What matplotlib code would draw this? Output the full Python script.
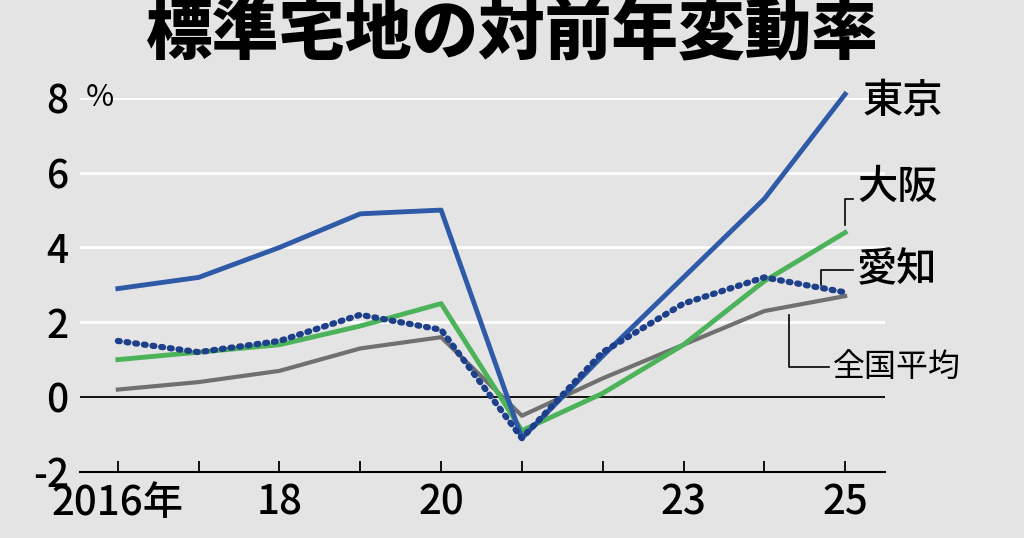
import matplotlib.pyplot as plt

plt.rcParams['font.family'] = ['Noto Sans CJK JP', 'DejaVu Sans']

years = [2016, 2017, 2018, 2019, 2020, 2021, 2022, 2023, 2024, 2025]
tokyo = [2.9, 3.2, 4.0, 4.9, 5.0, -1.1, 1.1, 3.2, 5.3, 8.1]
osaka = [1.0, 1.2, 1.4, 1.9, 2.5, -0.9, 0.1, 1.4, 3.1, 4.4]
aichi = [1.5, 1.2, 1.5, 2.2, 1.8, -1.1, 1.2, 2.5, 3.2, 2.8]
zenkoku = [0.2, 0.4, 0.7, 1.3, 1.6, -0.5, 0.5, 1.4, 2.3, 2.7]
xticks = [2016, 2018, 2020, 2023, 2025]
xlabels = ['2016年', '18', '20', '23', '25']
yticks = [-2, 0, 2, 4, 6, 8]

bg = '#e4e4e4'
fig = plt.figure(figsize=(10.24, 5.38), dpi=100, facecolor=bg)
ax = fig.add_axes([0.078, 0.123, 0.786, 0.695], facecolor=bg)
ax.set_xlim(2015.53, 2025.49)
ax.set_ylim(-2, 8)

for y in [2, 4, 6, 8]:
    ax.axhline(y, color='white', lw=2, zorder=0)
ax.axhline(0, color='black', lw=1.3, zorder=1)

ax.plot(years, zenkoku, color='#707070', lw=3, zorder=2)
ax.plot(years, osaka, color='#4db35a', lw=3.5, zorder=3)
ax.plot(years, tokyo, color='#2f5aa8', lw=3.5, zorder=4, clip_on=False)
ax.plot(years, aichi, color='#1e3f8a', lw=4.5, ls=(0, (0.3, 1.1)),
        dash_capstyle='round', zorder=5)

for s in ['top', 'right', 'left']:
    ax.spines[s].set_visible(False)
ax.spines['bottom'].set_linewidth(1.5)
ax.set_xticks(years)
ax.set_xticklabels([xlabels[xticks.index(y)] if y in xticks else '' for y in years])
ax.tick_params(axis='x', length=8, width=1.3, direction='in', labelsize=29, pad=8)
ax.set_yticks(yticks)
ax.set_yticklabels([str(v) for v in yticks])
ax.tick_params(axis='y', length=0, labelsize=28, pad=8)
for t in ax.get_xticklabels() + ax.get_yticklabels():
    t.set_fontweight('medium')
ax.text(2015.6, 8, '%', fontsize=22, va='center', ha='left')

lab = dict(fontsize=29, fontweight='medium', va='center', clip_on=False)
ax.text(2025.22, 7.9, '東京', **lab)
ax.text(2025.15, 5.6, '大阪', **lab)
ax.plot([2025.0, 2025.0, 2025.1], [4.6, 5.3, 5.3], color='black', lw=1.2, clip_on=False)
ax.text(2025.15, 3.4, '愛知', **lab)
ax.plot([2024.7, 2024.7, 2025.1], [3.0, 3.4, 3.4], color='black', lw=1.2, clip_on=False)
ax.text(2024.85, 0.8, '全国平均', fontsize=23, va='center', clip_on=False)
ax.plot([2024.3, 2024.3, 2024.8], [2.2, 0.8, 0.8], color='black', lw=1.2, clip_on=False)

fig.text(0.5, 0.935, '標準宅地の対前年変動率', fontsize=48, fontweight='heavy',
         ha='center', va='center')

fig.savefig('out.png', dpi=100, facecolor=bg)
